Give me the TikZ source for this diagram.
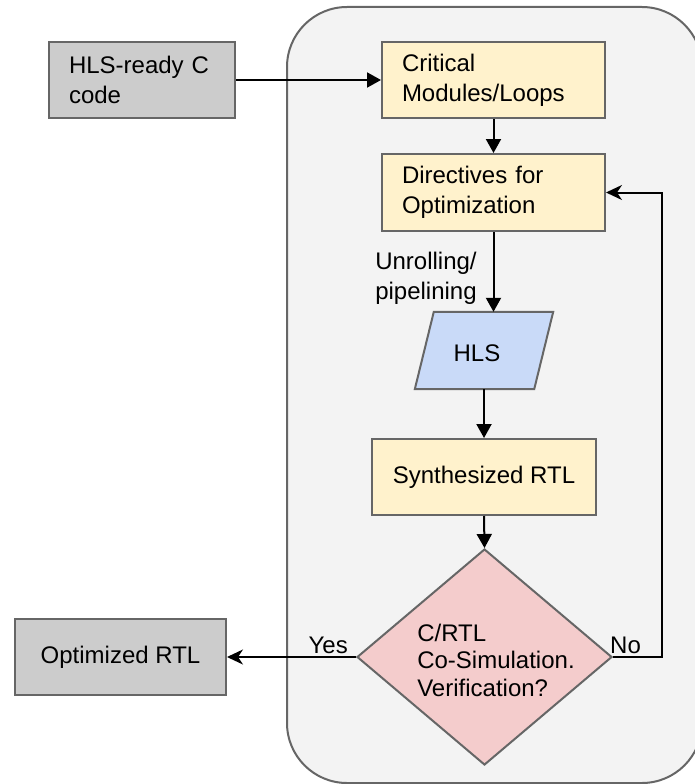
\documentclass[tikz,border=0pt]{standalone}
\usepackage{fontspec}
\setmainfont{Liberation Sans}
\usetikzlibrary{arrows.meta,shapes.geometric,calc}
\definecolor{bgfill}{HTML}{F3F3F3}
\definecolor{edgegray}{HTML}{666666}
\definecolor{grayfill}{HTML}{CCCCCC}
\definecolor{yellowfill}{HTML}{FFF2CC}
\definecolor{bluefill}{HTML}{C9DAF8}
\definecolor{pinkfill}{HTML}{F4CCCC}
\begin{document}
\begin{tikzpicture}[x=1pt,y=-1pt,
  every node/.style={font=\fontsize{24}{30}\selectfont},
  boxbase/.style={draw=edgegray, line width=2pt, rectangle, inner ysep=0pt},
  graybox/.style={boxbase, fill=grayfill},
  yelbox/.style={boxbase, fill=yellowfill},
  leftbox/.style={inner xsep=20pt, text width=#1, align=left},
  conn/.style={line width=2pt, -{Triangle[length=14pt,width=15pt]}},
  connb/.style={line width=2pt, -{Stealth[length=16pt,width=15pt,inset=5pt]}},
  lbl/.style={inner sep=0pt}
]
\useasboundingbox (0,0) rectangle (695,784);
% background container
\draw[fill=bgfill, draw=edgegray, line width=2pt, rounded corners=60pt] (287,7) rectangle (702,783);

% nodes
\node[graybox, leftbox=146pt, minimum width=186pt, minimum height=76pt] (src) at (142,80) {HLS-ready C\\code};
\node[yelbox, leftbox=183pt, minimum width=223pt, minimum height=76pt] (crit) at (493.5,80) {Critical\\Modules/Loops};
\node[yelbox, leftbox=183pt, minimum width=223pt, minimum height=77pt] (dir) at (493.5,192.5) {Directives for\\Optimization};
\node[inner sep=0pt, minimum width=138pt, minimum height=77pt] (hls) at (484,350.5) {};
\draw[fill=bluefill, draw=edgegray, line width=2pt] ($(hls.north west)+(19,0)$) -- (hls.north east) -- ($(hls.south east)-(19,0)$) -- (hls.south west) -- cycle;
\node[lbl] (hlstext) at (477,353) {HLS};
\node[yelbox, minimum width=224pt, minimum height=76pt] (syn) at (484,477) {Synthesized RTL};
\node[diamond, draw=edgegray, fill=pinkfill, line width=2pt, inner sep=0pt, minimum width=255pt, minimum height=216pt] (dec) at (484.5,657) {};
\node[lbl, align=left, font=\fontsize{24}{27.5}\selectfont] (dectext) at (496,660) {C/RTL\\Co-Simulation.\\Verification?};
\node[graybox, minimum width=211pt, minimum height=76pt] (opt) at (120.5,657) {Optimized RTL};

% labels
\node[lbl, align=left] (unroll) at (426,278) {Unrolling/\\pipelining};
\node[lbl, anchor=base east] (yes) at (348,653) {Yes};
\node[lbl, anchor=base west] (no) at (610,653) {No};

% connectors
\coordinate (fb) at (662,657);
\draw[conn] (src) -- (crit);
\draw[conn] (crit) -- (dir);
\draw[conn] (dir.south) -- (dir.south |- hls.north);
\draw[conn] (hls.south) -- (syn.north);
\draw[conn] (syn.south) -- (dec.north);
\draw[connb] (dec.west) -- (opt.east);
\draw[connb] (dec.east) -- (fb) |- (dir.east);
\end{tikzpicture}
\end{document}
